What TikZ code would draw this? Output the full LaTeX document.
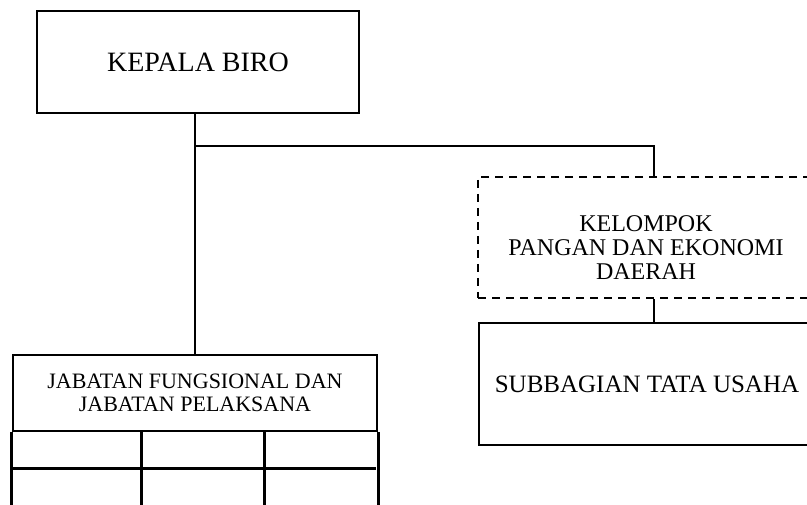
\documentclass[tikz,border=0pt]{standalone}
\usepackage{fontspec}
\setmainfont{Liberation Serif}
\usetikzlibrary{positioning}

\begin{document}
\begin{tikzpicture}[x=1pt, y=-1pt, line width=2.8pt,
    unit/.style = {draw, rectangle, inner sep=0pt, align=center, font=\fontsize{25}{24}\selectfont},
    group/.style = {unit, dash pattern=on 8pt off 6pt},
    label/.style = {inner sep=0pt, align=center, font=\fontsize{24}{24}\selectfont}]
    \useasboundingbox (0,0) rectangle (807,505);
    \clip (0,0) rectangle (807,505);
    % Nodes

    \node[unit, minimum width=322, minimum height=102, font=\fontsize{28}{30}\selectfont] (kepala) at (198,62) {KEPALA BIRO};
    \node[group, minimum width=337, minimum height=121] (kelompok) at (646.5,237.5) {};
    \node[label] (kelompoktext) at (646,248) {KELOMPOK\\PANGAN DAN EKONOMI\\DAERAH};
    \node[unit, minimum width=336, minimum height=122] (subbagian) at (647,384) {SUBBAGIAN TATA USAHA};
    \node[unit, minimum width=364, minimum height=76, font=\fontsize{22}{23.5}\selectfont] (jabatan) at (195,393) {JABATAN FUNGSIONAL DAN\\JABATAN PELAKSANA};
    \coordinate (branch) at (195,146);

    % Table below
    \draw (jabatan.south west) -- ++(0,100);
    \draw (jabatan.south east) -- ++(0,100);
    \draw (jabatan.south west) ++(0,36) -- ++(364,0);
    \foreach \col in {130,253}
        \draw (jabatan.south west) ++(\col,0) -- ++(0,100);

    % Edges
    \draw (kepala.south -| jabatan.north) -- (jabatan.north);
    \draw (branch) -| ([xshift=7.5pt]kelompok.north);
    \draw ([xshift=7.5pt]kelompok.south) -- ([xshift=7pt]subbagian.north);
\end{tikzpicture}
\end{document}
